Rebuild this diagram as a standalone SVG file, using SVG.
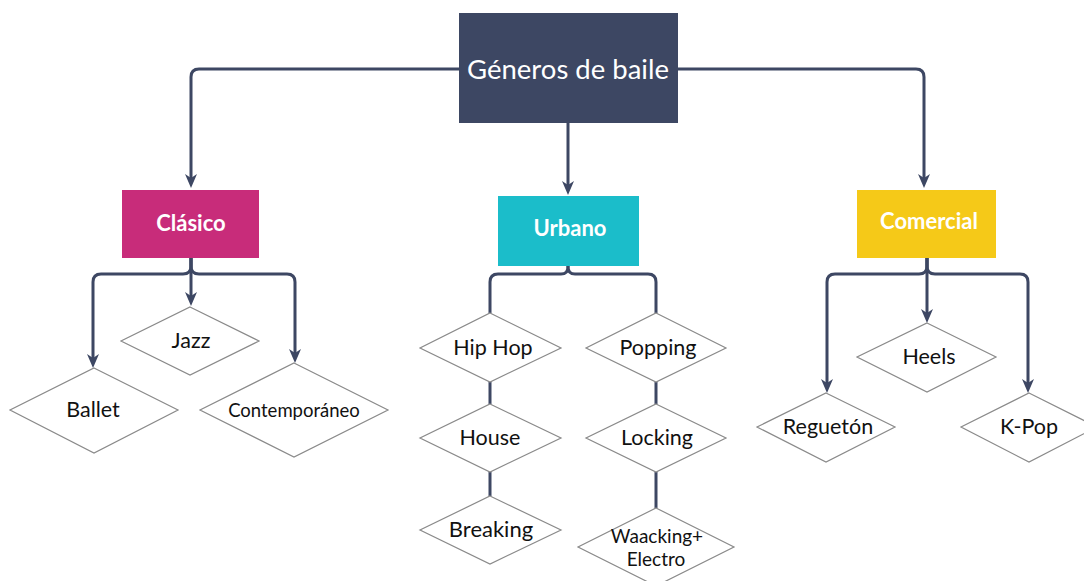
<svg xmlns="http://www.w3.org/2000/svg" width="1084" height="581" viewBox="0 0 1084 581">
<style>
.conn{fill:none;stroke:#3d4763;stroke-width:3;stroke-linejoin:round}
.arr{marker-end:url(#ah)}
.dia{fill:#ffffff;stroke:#8a8a8a;stroke-width:1.2}
.t{font-family:Lato,"Open Sans","Liberation Sans",sans-serif;text-anchor:middle}
.leaf{font-size:21.5px;fill:#111111}
.cat{font-size:22px;font-weight:bold;fill:#ffffff}
.title{font-size:27.5px;fill:#ffffff}
</style>
<defs>
<marker id="ah" viewBox="0 0 14 14" markerWidth="14" markerHeight="14" refX="9" refY="7" orient="auto" markerUnits="userSpaceOnUse">
<path d="M0,1 L14,7 L0,13 L4,7 z" fill="#3d4763"/>
</marker>
</defs>
<rect width="1084" height="581" fill="#ffffff"/>
<g id="connectors">
<path class="conn arr" d="M459 69 H199 Q191 69 191 77 V183"/>
<path class="conn arr" d="M678 69 H916 Q924 69 924 77 V183"/>
<path class="conn arr" d="M568 123 V190"/>
<path class="conn arr" d="M191 258 V301"/>
<path class="conn arr" d="M191 258 V266 Q191 274 183 274 H101 Q93 274 93 282 V363"/>
<path class="conn arr" d="M191 258 V266 Q191 274 199 274 H287 Q295 274 295 282 V358"/>
<path class="conn" d="M568 266 V267 Q568 274 561 274 H498 Q490 274 490 282 V313"/>
<path class="conn" d="M568 266 V267 Q568 274 575 274 H648 Q656 274 656 282 V313"/>
<path class="conn" d="M490 382 V404"/>
<path class="conn" d="M490 472 V496"/>
<path class="conn" d="M656 382 V404"/>
<path class="conn" d="M656 472 V508"/>
<path class="conn arr" d="M927 258 V318"/>
<path class="conn arr" d="M927 258 V266 Q927 274 919 274 H835 Q827 274 827 282 V388"/>
<path class="conn arr" d="M927 258 V266 Q927 274 935 274 H1020 Q1028 274 1028 282 V388"/>
</g>
<g id="generos">
<rect x="459" y="13" width="219" height="110" fill="#3d4763"/>
<text class="t title" x="568" y="79">Géneros de baile</text>
</g>
<g id="clasico">
<rect x="122" y="190" width="137" height="68" fill="#c82c7a"/>
<text class="t cat" x="191" y="231">Clásico</text>
</g>
<g id="urbano">
<rect x="498" y="196" width="141" height="70" fill="#1bbdca"/>
<text class="t cat" x="570" y="236">Urbano</text>
</g>
<g id="comercial">
<rect x="857" y="190" width="139" height="68" fill="#f5c918"/>
<text class="t cat" x="929" y="229">Comercial</text>
</g>
<g id="jazz">
<polygon class="dia" points="190,307 259,341 190,375 121,341"/>
<text class="t leaf" x="191" y="348">Jazz</text>
</g>
<g id="ballet">
<polygon class="dia" points="94,368 178,410 94,453 10,410"/>
<text class="t leaf" x="93" y="417">Ballet</text>
</g>
<g id="contemporaneo">
<polygon class="dia" points="294,363 388,410 294,457 200,410"/>
<text class="t leaf" x="294" y="417" style="font-size:18.5px">Contemporáneo</text>
</g>
<g id="hiphop">
<polygon class="dia" points="490,313 561,348 490,382 420,348"/>
<text class="t leaf" x="493" y="355">Hip Hop</text>
</g>
<g id="popping">
<polygon class="dia" points="656,313 726,348 656,382 586,348"/>
<text class="t leaf" x="658" y="355">Popping</text>
</g>
<g id="house">
<polygon class="dia" points="490,404 561,438 490,472 420,438"/>
<text class="t leaf" x="490" y="445">House</text>
</g>
<g id="locking">
<polygon class="dia" points="656,404 726,438 656,472 586,438"/>
<text class="t leaf" x="657" y="445">Locking</text>
</g>
<g id="breaking">
<polygon class="dia" points="490,496 561,530 490,564 420,530"/>
<text class="t leaf" x="491" y="537" style="font-size:22px">Breaking</text>
</g>
<g id="waacking">
<polygon class="dia" points="656,508 734,547 656,586 578,547"/>
<text class="t leaf" x="657" y="543" style="font-size:19px">Waacking+</text>
<text class="t leaf" x="656" y="566" style="font-size:19px">Electro</text>
</g>
<g id="heels">
<polygon class="dia" points="927,323 996,357 927,392 857,357"/>
<text class="t leaf" x="929" y="364">Heels</text>
</g>
<g id="regueton">
<polygon class="dia" points="826,393 895,427 826,462 757,427"/>
<text class="t leaf" x="828" y="434">Reguetón</text>
</g>
<g id="kpop">
<polygon class="dia" points="1029,393 1097,427 1029,462 961,427"/>
<text class="t leaf" x="1029" y="434">K-Pop</text>
</g>
</svg>
